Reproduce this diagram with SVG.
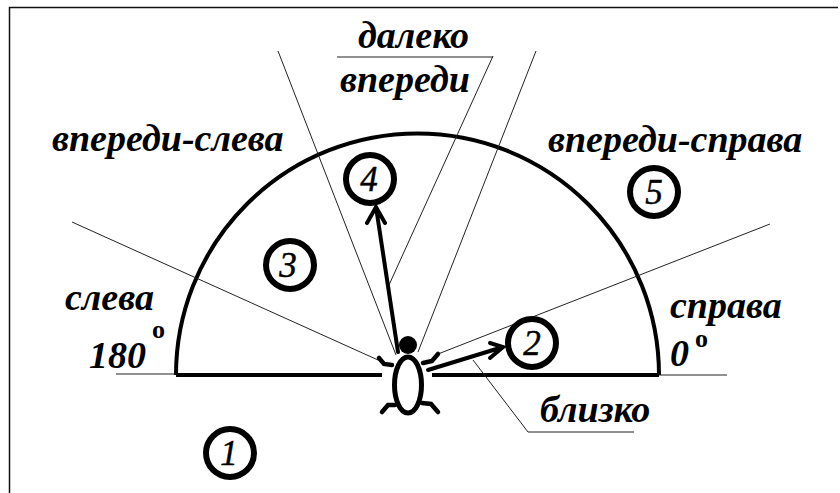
<svg xmlns="http://www.w3.org/2000/svg" width="840" height="493" viewBox="0 0 840 493">
<style>
.t{font-family:"Liberation Serif",serif;font-weight:bold;font-style:italic;fill:#000}
.l{font-size:38px}
.n{font-size:35px;text-anchor:middle;font-weight:normal;stroke:#000;stroke-width:.5}
.c{fill:#fff;stroke:#000;stroke-width:6}
.th{fill:none;stroke:#222;stroke-width:1}
.tk{fill:none;stroke:#000;stroke-width:4}
.ar{fill:none;stroke:#000;stroke-width:4;stroke-linecap:round}
</style>
<rect width="840" height="493" fill="#fff"/>
<path d="M9.5 493V7.5H838" fill="none" stroke="#111" stroke-width="1.5"/>
<g id="connectors">
<path class="tk" d="M176 375A241 241 0 0 1 659 375"/>
<path class="tk" d="M176 375H382M432 375H659"/>
<path class="th" d="M116 374H176M659 375H727"/>
<path class="th" d="M72 222L378 360M278 51L396 355M493 56L389 285M536 51L418 352M770 224L438 354"/>
<path class="th" d="M337 57H493M473 360L528 432H634"/>
<path class="ar" d="M398 352L376 207M367 223L376 207L385 223"/>
<path class="ar" d="M428 370L503 347M490 343L503 347L490 358"/>
</g>
<g id="turtle">
<circle cx="408" cy="345" r="9" fill="#000"/>
<ellipse cx="408" cy="385" rx="13.5" ry="28" fill="#fff" stroke="#000" stroke-width="5"/>
<path d="M392 365L384 364L379 358M423 363L432 361L438 354M395 405L388 405L382 412M422 403L431 404L438 412" fill="none" stroke="#000" stroke-width="4.5" stroke-linecap="round"/>
</g>
<g id="n1"><circle class="c" cx="230" cy="453" r="24"/><text class="t n" x="229" y="465">1</text></g>
<g id="n2"><circle class="c" cx="532" cy="343" r="24"/><text class="t n" x="532" y="355">2</text></g>
<g id="n3"><circle class="c" cx="290" cy="265" r="24"/><text class="t n" x="288" y="277">3</text></g>
<g id="n4"><circle class="c" cx="370" cy="179" r="24"/><text class="t n" x="369" y="191">4</text></g>
<g id="n5"><circle class="c" cx="654" cy="192" r="24"/><text class="t n" x="654" y="204">5</text></g>
<g id="labels">
<text class="t l" x="358" y="48">далеко</text>
<text class="t l" x="340" y="92">впереди</text>
<text class="t l" x="52" y="151">впереди-слева</text>
<text class="t l" x="548" y="152">впереди-справа</text>
<text class="t l" x="65" y="310">слева</text>
<text class="t l" x="89" y="368">180</text>
<text class="t" x="152" y="338" font-size="26" font-style="normal" style="font-style:normal">o</text>
<text class="t l" x="670" y="318">справа</text>
<text class="t l" x="670" y="366">0</text>
<text class="t" x="695" y="347" font-size="26" style="font-style:normal">o</text>
<text class="t l" x="540" y="422">близко</text>
</g>
</svg>
